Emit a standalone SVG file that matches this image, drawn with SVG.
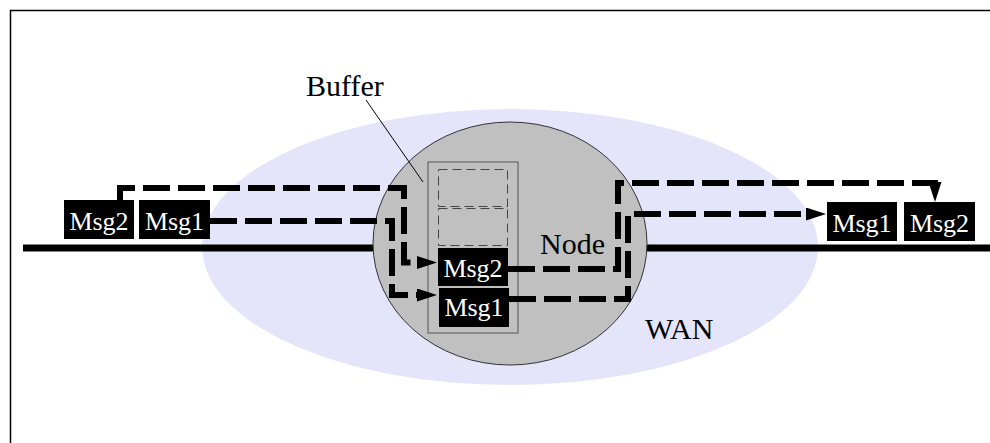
<svg xmlns="http://www.w3.org/2000/svg" width="990" height="443" viewBox="0 0 990 443">
<style>
  .lbl { font-family: "Liberation Serif", "Times New Roman", serif; font-size: 30px; fill: #000; }
  .msg rect { fill: #000; }
  .msg text { font-family: "Liberation Serif", "Times New Roman", serif; font-size: 26px; fill: #fff; text-anchor: middle; }
  .flow { fill: none; stroke: #000; stroke-width: 6; stroke-dasharray: 27 8; stroke-linejoin: miter; }
  .slot { fill: none; stroke: #444; stroke-width: 1; stroke-dasharray: 9 5; }
</style>
<defs>
  <marker id="arr" markerUnits="userSpaceOnUse" markerWidth="22" markerHeight="14" refX="2" refY="6.5" orient="auto">
    <path d="M0,0 L20,6.5 L0,13 z" fill="#000"/>
  </marker>
</defs>
<rect width="990" height="443" fill="#fff"/>
<path d="M10.5 443 V10.5 H990" fill="none" stroke="#000" stroke-width="1.5"/>

<g id="wan">
  <ellipse cx="510" cy="247" rx="308" ry="138" fill="#e4e4fa"/>
  <text class="lbl" x="645" y="339">WAN</text>
</g>

<g id="wire">
  <line x1="23" y1="248" x2="990" y2="248" stroke="#000" stroke-width="7"/>
</g>

<g id="node">
  <ellipse cx="510" cy="243.5" rx="137" ry="121.5" fill="#c0c0c0" stroke="#333" stroke-width="1"/>
  <text class="lbl" x="540" y="254">Node</text>
</g>

<g id="buffer">
  <rect x="428" y="162" width="90" height="171" fill="none" stroke="#555" stroke-width="1"/>
  <rect class="slot" x="438.5" y="169.5" width="69" height="37"/>
  <rect class="slot" x="438.5" y="208.5" width="69" height="37"/>
  <line x1="366" y1="100" x2="423" y2="182" stroke="#000" stroke-width="1"/>
  <text class="lbl" x="306" y="96">Buffer</text>
</g>

<g id="buf-msg2" class="msg">
  <rect x="438" y="248" width="70" height="38"/>
  <text x="473" y="277">Msg2</text>
</g>
<g id="buf-msg1" class="msg">
  <rect x="439" y="288" width="70" height="39"/>
  <text x="474" y="316">Msg1</text>
</g>

<g id="src-msg2" class="msg">
  <rect x="64" y="200" width="70" height="39"/>
  <text x="99" y="230">Msg2</text>
</g>
<g id="src-msg1" class="msg">
  <rect x="139" y="200" width="71" height="39"/>
  <text x="174.5" y="230">Msg1</text>
</g>

<g id="dst-msg1" class="msg">
  <rect x="827" y="202" width="70" height="39"/>
  <text x="862" y="232">Msg1</text>
</g>
<g id="dst-msg2" class="msg">
  <rect x="904" y="202" width="71" height="39"/>
  <text x="939.5" y="232">Msg2</text>
</g>

<g id="connectors">
  <path class="flow" d="M120 200 V188 H404 V262.5 H419" marker-end="url(#arr)"/>
  <path class="flow" d="M210 221 H392 V295 H419" marker-end="url(#arr)"/>
  <path class="flow" d="M508 269 H618 V183 H935 V184" marker-end="url(#arr)"/>
  <path class="flow" d="M509 299 H628 V214 H808" marker-end="url(#arr)"/>
</g>
</svg>
